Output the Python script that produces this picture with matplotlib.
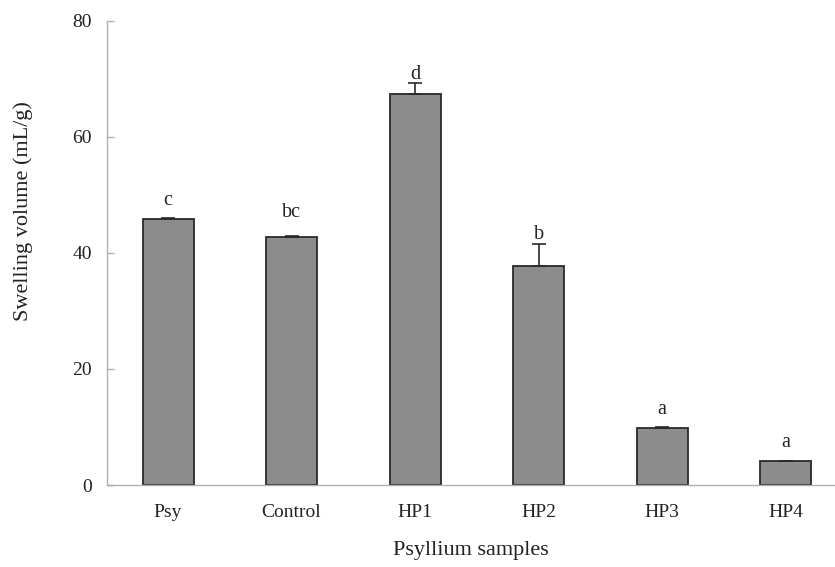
import matplotlib
matplotlib.use("Agg")
import matplotlib.pyplot as plt
import numpy as np

categories = ["Psy", "Control", "HP1", "HP2", "HP3", "HP4"]
values = [45.8, 42.7, 67.3, 37.8, 9.8, 4.1]
errors = [0.2, 0.2, 1.9, 3.8, 0.2, 0.0]
letters = ["c", "bc", "d", "b", "a", "a"]
yticks = [0, 20, 40, 60, 80]

plt.rcParams['font.family'] = ['Liberation Serif', 'DejaVu Serif']

fig = plt.figure(figsize=(8.35, 5.67), dpi=100)
ax = fig.add_axes([107/835, 1 - 485/567, (835-107)/835, (485-20.7)/567])

x = np.arange(len(categories))
ax.bar(x, values, width=0.413, color='#8c8c8c', edgecolor='#2a2a2a', linewidth=1.3, zorder=2)
ax.errorbar(x, values, yerr=[np.zeros(len(errors)), errors], fmt='none',
            ecolor='#2a2a2a', elinewidth=1.2, capsize=5, capthick=1.2, zorder=3)

letter_gap_pt = [9.4, 13.7, 2.9, 3.6, 9.4, 10.0]
for xi, v, e, l, g in zip(x, values, errors, letters, letter_gap_pt):
    ax.annotate(l, (xi, v + e), xytext=(0, g), textcoords='offset points',
                ha='center', va='baseline', fontsize=14.5, color='#222222')

ax.set_xlim(-0.494, 5.4)
ax.set_ylim(0, 80)
ax.set_yticks(yticks)
ax.set_xticks(x)
ax.set_xticklabels(categories, fontsize=14, color='#222222')
ax.tick_params(axis='y', labelsize=14, labelcolor='#222222', color='#b0b0b0',
               direction='in', length=5, width=1, pad=11)
ax.tick_params(axis='x', length=0, pad=14)

for s in ['top', 'right']:
    ax.spines[s].set_visible(False)
for s in ['left', 'bottom']:
    ax.spines[s].set_color('#b0b0b0')
    ax.spines[s].set_linewidth(1.0)

ax.set_ylabel("Swelling volume (mL/g)", fontsize=16, color='#222222')
ax.yaxis.set_label_coords(-(107 - 33) / 728, 1 - (211 - 20.7) / 464.3)
ax.set_xlabel("Psyllium samples", fontsize=16, color='#222222', labelpad=14)

fig.savefig("out.png", dpi=100)
